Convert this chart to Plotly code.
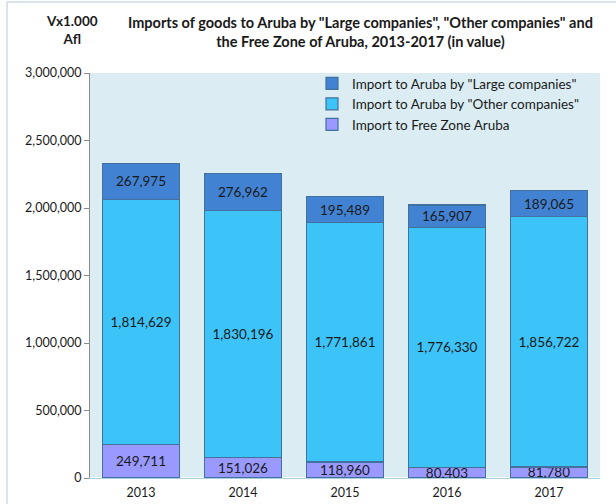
import plotly.graph_objects as go

years = ["2013", "2014", "2015", "2016", "2017"]
free_zone = [249711, 151026, 118960, 80403, 81780]
other_companies = [1814629, 1830196, 1771861, 1776330, 1856722]
large_companies = [267975, 276962, 195489, 165907, 189065]

names = ['Import to Free Zone Aruba',
         'Import to Aruba by "Other companies"',
         'Import to Aruba by "Large companies"']
colors = ["#9999FF", "#3CC4F8", "#4282D3"]
series = [free_zone, other_companies, large_companies]

FONT = "Lato, 'Open Sans', sans-serif"
fig = go.Figure()
for name, vals, col in zip(names, series, colors):
    fig.add_trace(go.Bar(
        x=years, y=vals, name=name,
        marker=dict(color=col, line=dict(color="#41719C", width=1.2)),
        text=[f"{v:,}" for v in vals],
        textposition="inside", insidetextanchor="middle",
        constraintext="none", textangle=0,
        textfont=dict(family=FONT, size=13.5, color="#1a1a1a"),
        hoverinfo="skip",
    ))

W, H = 616, 504
L, R, T, B = 90, 16, 73, 26
pw, ph = W - L - R, H - T - B

fig.update_layout(
    width=W, height=H, autosize=False,
    barmode="stack", bargap=0.245,
    margin=dict(l=L, r=R, t=T, b=B),
    paper_bgcolor="white", plot_bgcolor="#DBEDF3",
    font=dict(family=FONT, size=12, color="#1a1a1a"),
    showlegend=True,
    legend=dict(
        x=(312 - L) / pw, y=1 + 5 / ph, xanchor="left", yanchor="top",
        traceorder="reversed", bgcolor="rgba(0,0,0,0)",
        font=dict(family=FONT, size=13.5, color="#1a1a1a"),
        itemwidth=30, tracegroupgap=0,
    ),
    xaxis=dict(
        automargin=False, ticklabelstandoff=3,
        showgrid=False, showline=True, linecolor="#A9CFE0", linewidth=1,
        ticks="", tickfont=dict(family=FONT, size=12.5, color="#1a1a1a"),
    ),
    yaxis=dict(
        automargin=False,
        range=[0, 3000000], tickvals=[0, 500000, 1000000, 1500000, 2000000, 2500000, 3000000],
        tickformat=",d", showgrid=False, showline=True, linecolor="#8C8C8C", linewidth=1,
        ticks="outside", ticklen=5, tickcolor="#8C8C8C",
        tickfont=dict(family=FONT, size=12.5, color="#1a1a1a"),
    ),
    annotations=[
        dict(text="<b>Imports of goods to Aruba by \"Large companies\", \"Other companies\" and<br>the Free Zone of Aruba, 2013-2017 (in value)</b>",
             xref="paper", yref="paper", x=(360 - L) / pw, y=1 + (T - 12) / ph,
             xanchor="center", yanchor="top", showarrow=False, align="center",
             font=dict(family=FONT, size=14.5, color="#1a1a1a")),
        dict(text="<b>Vx1.000<br>Afl</b>",
             xref="paper", yref="paper", x=(72 - L) / pw, y=1 + (T - 11) / ph,
             xanchor="center", yanchor="top", showarrow=False, align="center",
             font=dict(family=FONT, size=13.5, color="#1a1a1a")),
    ],
    shapes=[
        dict(type="rect", xref="paper", yref="paper",
             x0=(7 - L) / pw, x1=(640 - L) / pw,
             y0=-0.2, y1=1 + (T - 2) / ph,
             line=dict(color="#B4C7DC", width=1), fillcolor="rgba(0,0,0,0)", layer="below"),
    ],
)

fig.write_html("out.html", config={"displayModeBar": False},
               post_script="document.body.style.margin='0';document.body.style.overflow='hidden';")
